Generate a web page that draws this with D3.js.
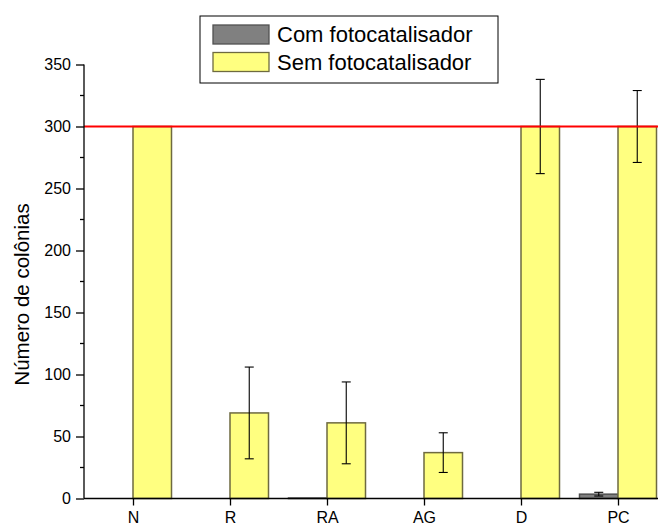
<!DOCTYPE html>
<html>
<head>
<meta charset="utf-8">
<script src="https://cdn.jsdelivr.net/npm/d3@7"></script>
<style>
  html, body { margin: 0; padding: 0; background: #fff; }
  svg { display: block; font-family: Arial, "Liberation Sans", sans-serif; }
</style>
</head>
<body>
<svg id="chart" width="658" height="527"></svg>
<script>
// Colony counts per treatment, with and without photocatalyst
const categories = ["N", "R", "RA", "AG", "D", "PC"];
const comValues = [0, 0, 0.4, 0, 0, 3.5];
const comErrors = [0, 0, 0, 0, 0, 1.5];
const semValues = [300, 69, 61, 37, 300, 300];
const semErrors = [0, 37, 33, 16, 38, 29];
const seriesNames = ["Com fotocatalisador", "Sem fotocatalisador"];
const yTicks = [0, 50, 100, 150, 200, 250, 300, 350];
const yMinorTicks = [25, 75, 125, 175, 225, 275, 325];
const limitValue = 300;

const svg = d3.select("#chart");
const axisX0 = 84, zeroY = 498.5, topY = 64.5;
const step = 97;

const y = d3.scaleLinear().domain([0, 350]).range([zeroY, topY]);
const x = d3.scalePoint().domain(categories)
  .range([axisX0 + 49, axisX0 + 49 + step * (categories.length - 1)]);
const barW = 38.5;

const colors = { com: "#808080", comStroke: "#505050", sem: "#ffff80", semStroke: "#6e6a40" };

// Bars: "Com" left of each tick, "Sem" right of each tick
const g = svg.append("g");
g.selectAll("rect.com").data(categories).join("rect")
  .attr("class", "com")
  .attr("x", d => x(d) - barW)
  .attr("width", barW)
  .attr("y", (d, i) => y(comValues[i]))
  .attr("height", (d, i) => zeroY - y(comValues[i]))
  .attr("fill", colors.com)
  .attr("stroke", colors.comStroke)
  .attr("stroke-width", 1.5);

g.selectAll("rect.sem").data(categories).join("rect")
  .attr("class", "sem")
  .attr("x", d => x(d))
  .attr("width", barW)
  .attr("y", (d, i) => y(semValues[i]))
  .attr("height", (d, i) => zeroY - y(semValues[i]))
  .attr("fill", colors.sem)
  .attr("stroke", colors.semStroke)
  .attr("stroke-width", 1.5);

// Error bars
function errorBars(values, errors, offset, cls) {
  const data = categories.map((c, i) => ({ c, v: values[i], e: errors[i] })).filter(d => d.e > 0);
  const eg = g.selectAll("g." + cls).data(data).join("g").attr("class", cls)
    .attr("stroke", "#000").attr("stroke-width", 1.1);
  eg.append("line")
    .attr("x1", d => x(d.c) + offset).attr("x2", d => x(d.c) + offset)
    .attr("y1", d => y(d.v + d.e)).attr("y2", d => y(d.v - d.e));
  eg.append("line")
    .attr("x1", d => x(d.c) + offset - 4.5).attr("x2", d => x(d.c) + offset + 4.5)
    .attr("y1", d => y(d.v + d.e)).attr("y2", d => y(d.v + d.e));
  eg.append("line")
    .attr("x1", d => x(d.c) + offset - 4.5).attr("x2", d => x(d.c) + offset + 4.5)
    .attr("y1", d => y(d.v - d.e)).attr("y2", d => y(d.v - d.e));
}
errorBars(comValues, comErrors, -barW / 2, "errCom");
errorBars(semValues, semErrors, barW / 2, "errSem");

// Limit line
svg.append("line")
  .attr("x1", axisX0).attr("x2", 658)
  .attr("y1", y(limitValue)).attr("y2", y(limitValue))
  .attr("stroke", "#ff0000").attr("stroke-width", 2.2);

// Y axis
const yAxis = svg.append("g").attr("transform", `translate(${axisX0},0)`)
  .call(d3.axisLeft(y).tickValues(yTicks).tickSize(8).tickPadding(5).tickFormat(d3.format("d")));
yAxis.select(".domain").attr("stroke", "#000").attr("stroke-width", 1.3).attr("d", `M0,${y(350)}V${zeroY}`);
yAxis.selectAll(".tick line").attr("stroke", "#000").attr("stroke-width", 1.3);
yAxis.selectAll(".tick text").attr("font-size", 16).attr("fill", "#000")
  .attr("font-family", "Arial, 'Liberation Sans', sans-serif");
svg.append("g").selectAll("line").data(yMinorTicks).join("line")
  .attr("x1", axisX0 - 4).attr("x2", axisX0)
  .attr("y1", d => y(d)).attr("y2", d => y(d))
  .attr("stroke", "#000").attr("stroke-width", 1.3);

// X axis
const xAxis = svg.append("g").attr("transform", `translate(0,${zeroY})`)
  .call(d3.axisBottom(x).tickSize(7).tickPadding(6));
xAxis.select(".domain").attr("stroke", "#000").attr("stroke-width", 1.3).attr("d", `M${axisX0},0H658`);
xAxis.selectAll(".tick line").attr("stroke", "#000").attr("stroke-width", 1.3);
xAxis.selectAll(".tick text").attr("font-size", 16).attr("fill", "#000")
  .attr("font-family", "Arial, 'Liberation Sans', sans-serif");

// Y axis title
svg.append("text")
  .attr("transform", "translate(29,294.5) rotate(-90)")
  .attr("text-anchor", "middle")
  .attr("font-size", 20.5)
  .attr("fill", "#000")
  .text("Número de colônias");

// Legend
const legend = svg.append("g");
legend.append("rect").attr("x", 200).attr("y", 16).attr("width", 298).attr("height", 67)
  .attr("fill", "#fff").attr("stroke", "#000").attr("stroke-width", 1);
const legendFills = [[colors.com, colors.comStroke], [colors.sem, colors.semStroke]];
seriesNames.forEach((name, i) => {
  const yy = 25 + i * 27.5;
  legend.append("rect").attr("x", 213).attr("y", yy).attr("width", 56).attr("height", 19)
    .attr("fill", legendFills[i][0]).attr("stroke", legendFills[i][1]).attr("stroke-width", 1.3);
  legend.append("text").attr("x", 277).attr("y", yy + 17)
    .attr("font-size", 22).attr("fill", "#000").text(name);
});
</script>
</body>
</html>
